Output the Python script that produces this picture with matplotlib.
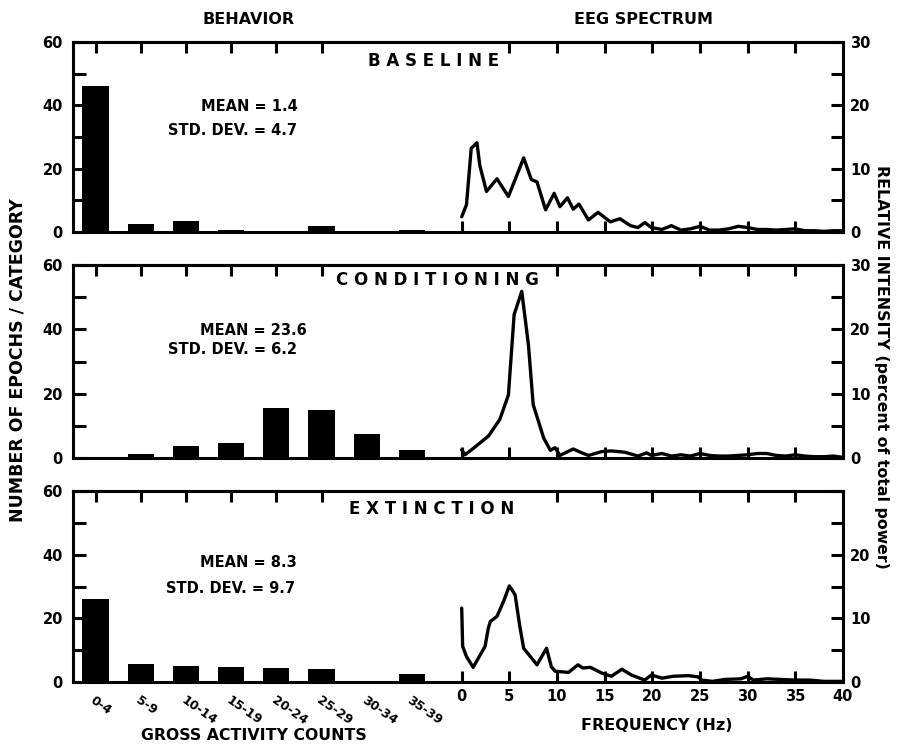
import matplotlib
matplotlib.use("Agg")
import matplotlib.pyplot as plt
from matplotlib.ticker import FixedLocator

plt.rcParams['font.family'] = ['DejaVu Sans']
plt.rcParams['font.weight'] = 'bold'

# ---------------- data ----------------
categories = ["0-4", "5-9", "10-14", "15-19", "20-24", "25-29", "30-34", "35-39"]
baseline_counts = [46, 2.5, 3.5, 0.5, 0.3, 2.0, 0.2, 0.5]
conditioning_counts = [0.3, 1.2, 3.7, 4.8, 15.6, 14.9, 7.4, 2.5]
extinction_counts = [26, 5.5, 4.9, 4.6, 4.4, 4.2, 0.3, 2.5]

baseline_freq = [0, 0.5, 1.0, 1.6, 1.9, 2.6, 3.7, 4.9, 6.5, 7.3, 7.9, 8.8, 9.7, 10.3,
                 11.1, 11.7, 12.3, 13.3, 14.3, 15.6, 16.6, 17.7, 18.5, 19.2, 19.9,
                 21, 22, 23, 24, 25, 26, 27, 28, 29, 30, 31, 32, 33, 34, 35, 36, 37,
                 38, 39, 40]
baseline_power = [2.4, 4.3, 13.2, 14.1, 10.5, 6.4, 8.4, 5.6, 11.7, 8.3, 7.9, 3.5, 6.1,
                  4.0, 5.4, 3.6, 4.4, 1.9, 3.1, 1.6, 2.1, 1.0, 0.7, 1.5, 0.7,
                  0.4, 1.0, 0.3, 0.5, 0.9, 0.3, 0.3, 0.5, 0.9, 0.7, 0.4, 0.4, 0.3,
                  0.4, 0.5, 0.2, 0.2, 0.1, 0.2, 0.2]

conditioning_freq = [0, 0.35, 1.05, 2.8, 4.0, 4.9, 5.5, 6.3, 7.0, 7.5, 8.6, 9.3, 9.8,
                     10.3, 11.0, 11.7, 12.6, 13.3, 14.7, 15.7, 17.1, 18.5, 19.4, 19.9,
                     21, 22, 23, 24, 25, 26, 27, 28, 29, 30, 31, 32, 33, 34, 35, 36,
                     37, 38, 39, 40]
conditioning_power = [1.3, 0.5, 1.3, 3.4, 6.0, 9.8, 22.3, 25.9, 17.6, 8.3, 3.1, 1.2,
                      1.6, 0.4, 0.9, 1.4, 0.8, 0.4, 1.0, 1.1, 0.9, 0.3, 0.8, 0.4,
                      0.7, 0.3, 0.5, 0.3, 0.7, 0.4, 0.3, 0.3, 0.4, 0.5, 0.7, 0.7,
                      0.4, 0.3, 0.5, 0.3, 0.2, 0.2, 0.3, 0.1]

extinction_freq = [0, 0.1, 0.5, 1.2, 2.45, 2.8, 3.0, 3.7, 4.4, 5.0, 5.6, 6.1, 6.5, 7.9,
                   8.9, 9.4, 9.8, 11.2, 12.2, 12.7, 13.5, 14.7, 15.7, 16.8, 17.8, 19.2,
                   19.9, 21, 22.2, 23.8, 24.8, 25.2, 26.3, 27.6, 29.3, 30, 30.6, 32,
                   33.5, 35, 36.5, 38, 40]
extinction_power = [11.6, 5.6, 4.0, 2.3, 5.6, 8.5, 9.5, 10.3, 12.7, 15.1, 13.7, 8.7,
                    5.3, 2.7, 5.3, 2.4, 1.7, 1.5, 2.7, 2.2, 2.3, 1.4, 0.9, 2.0, 1.1,
                    0.3, 1.1, 0.6, 0.9, 1.0, 0.8, 0.3, 0.1, 0.4, 0.5, 0.9, 0.3, 0.5,
                    0.4, 0.3, 0.3, 0.1, 0.1]

panel_titles = ["B A S E L I N E", "C O N D I T I O N I N G", "E X T I N C T I O N"]
mean_texts = ["MEAN = 1.4", "MEAN = 23.6", "MEAN = 8.3"]
std_texts = ["STD. DEV. = 4.7", "STD. DEV. = 6.2", "STD. DEV. = 9.7"]
freq_ticks = [0, 5, 10, 15, 20, 25, 30, 35, 40]
count_ticks = [0, 20, 40, 60]
power_ticks = [0, 10, 20, 30]

# ---------------- layout ----------------
W, H = 898, 756
fig = plt.figure(figsize=(W / 100, H / 100), dpi=100)

x0, x1 = 72.7, 843.0
panels_px = [(42, 232), (265, 458), (491, 682)]
title_pos = [(0.468, 0.90), (0.473, 0.922), (0.466, 0.906)]
mean_pos = [((0.2925, 0.658), (0.291, 0.532)),
            ((0.304, 0.663), (0.291, 0.560)),
            ((0.291, 0.628), (0.289, 0.487))]
top_freq_ticks = [[5, 10, 15, 20, 25, 30, 35],
                  [10, 15, 20, 25, 30, 35],
                  [10, 15, 20, 25, 30, 35]]

counts_all = [baseline_counts, conditioning_counts, extinction_counts]
freq_all = [baseline_freq, conditioning_freq, extinction_freq]
power_all = [baseline_power, conditioning_power, extinction_power]

cat_step = 45.2
cat0 = 95.5
hz_px = (x1 - 461.7) / 40.0
LW = 2.2
TL = 9
tick_fs = 10.5

for i, (top, bot) in enumerate(panels_px):
    rect = [x0 / W, 1 - bot / H, (x1 - x0) / W, (bot - top) / H]
    ax = fig.add_axes(rect)
    idx = list(range(len(categories)))
    ax.bar(idx, counts_all[i], width=0.58, color='black', zorder=2)
    ax.set_xlim((x0 - cat0) / cat_step, (x1 - cat0) / cat_step)
    ax.set_ylim(0, 60)
    for s in ax.spines.values():
        s.set_linewidth(LW)
    ax.yaxis.set_major_locator(FixedLocator(count_ticks))
    ax.yaxis.set_minor_locator(FixedLocator([10, 30, 50]))
    ax.tick_params(axis='y', which='both', direction='in', length=TL, width=LW,
                   labelsize=tick_fs, pad=7, right=False)
    ax.set_xticks(idx)
    if i == 2:
        ax.set_xticklabels(categories, rotation=-35, ha='left', va='top',
                           rotation_mode='anchor', fontsize=9, fontweight='bold')
        ax.tick_params(axis='x', bottom=False, top=False, labelbottom=True, pad=5)
    else:
        ax.tick_params(axis='x', bottom=False, top=False, labelbottom=False)
    sec = ax.secondary_xaxis('top')
    sec.set_xticks(list(range(6)))
    sec.tick_params(direction='in', length=TL - 1, width=LW, labeltop=False)
    sec.spines['top'].set_linewidth(LW)

    ax2 = fig.add_axes(rect, frameon=False)
    ax2.patch.set_visible(False)
    ax2.plot(freq_all[i], power_all[i], color='black', lw=2.4,
             solid_joinstyle='round', solid_capstyle='round', clip_on=False)
    ax2.set_xlim(-(461.7 - x0) / hz_px, 40)
    ax2.set_ylim(0, 30)
    ax2.yaxis.tick_right()
    ax2.yaxis.set_major_locator(FixedLocator(power_ticks))
    ax2.yaxis.set_minor_locator(FixedLocator([5, 15, 25]))
    ax2.tick_params(axis='y', which='both', direction='in', length=TL, width=LW,
                    labelsize=tick_fs, pad=5, left=False, right=True)
    if i == 2:
        ax2.set_yticklabels(["0", "10", "20", ""])
    ax2.set_xticks(freq_ticks)
    ax2.tick_params(axis='x', direction='in', length=TL - 1, width=LW,
                    labelsize=tick_fs, pad=5, top=False, labelbottom=(i == 2))
    sec2 = ax2.secondary_xaxis('top')
    sec2.set_xticks(top_freq_ticks[i])
    sec2.tick_params(direction='in', length=TL - 1, width=LW, labeltop=False)
    sec2.spines['top'].set_visible(False)

    tx, ty = title_pos[i]
    ax.text(tx, ty, panel_titles[i], transform=ax.transAxes, ha='center', va='center',
            fontsize=12, fontweight='bold', zorder=5)
    (mx, my), (sx, sy) = mean_pos[i]
    ax.text(mx, my, mean_texts[i], transform=ax.transAxes, ha='right', va='center',
            fontsize=10.5, fontweight='bold')
    ax.text(sx, sy, std_texts[i], transform=ax.transAxes, ha='right', va='center',
            fontsize=10.5, fontweight='bold')

fig.text(249 / W, 1 - 20 / H, "BEHAVIOR", ha='center', va='center', fontsize=11.5,
         fontweight='bold')
fig.text(643 / W, 1 - 20 / H, "EEG SPECTRUM", ha='center', va='center', fontsize=11.5,
         fontweight='bold')
fig.text(254 / W, 1 - 735 / H, "GROSS ACTIVITY COUNTS", ha='center', va='center',
         fontsize=11.3, fontweight='bold')
fig.text(657 / W, 1 - 725 / H, "FREQUENCY (Hz)", ha='center', va='center',
         fontsize=11.5, fontweight='bold')
fig.text(18 / W, 1 - 360 / H, "NUMBER OF EPOCHS / CATEGORY", rotation=90,
         ha='center', va='center', fontsize=12.5, fontweight='bold')
fig.text(881 / W, 1 - 367 / H, "RELATIVE INTENSITY (percent of total power)",
         rotation=-90, ha='center', va='center', fontsize=11.3, fontweight='bold')

fig.savefig("out.png", dpi=100)
